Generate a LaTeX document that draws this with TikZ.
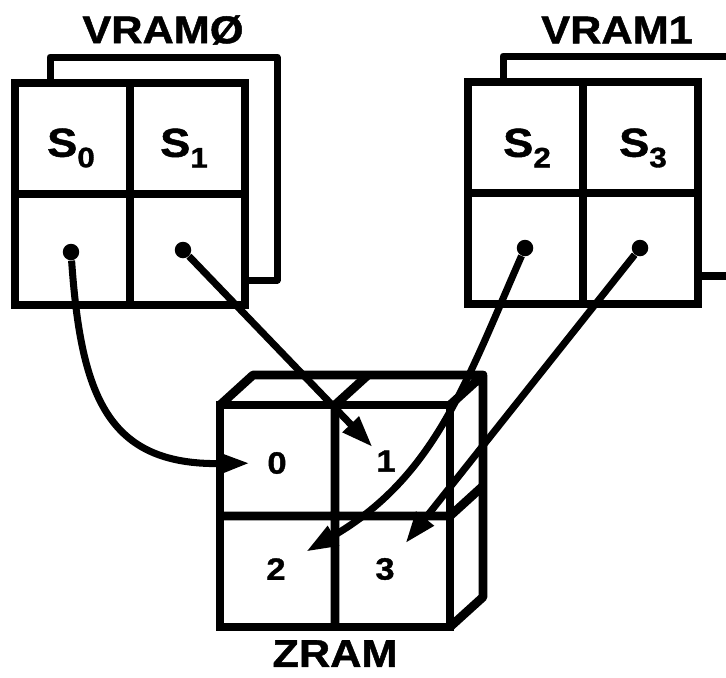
\documentclass[tikz,border=0pt]{standalone}
\usepackage{fontspec}
\setmainfont{Liberation Sans}[FakeStretch=1.12,BoldFeatures={FakeBold=1.2}]
\usepackage{tikz}
\usetikzlibrary{arrows.meta,positioning,calc}
\newcommand{\sidx}[1]{\raisebox{-6pt}{\fontsize{16}{16}\selectfont #1}}

\begin{document}
\begin{tikzpicture}[x=0.02cm,y=-0.02cm,>={Triangle[length=18pt,width=12pt]},
 ram/.style={draw,line width=5pt,minimum width=4.6cm,minimum height=4.44cm,inner sep=0pt,outer sep=0pt},
 fr/.style={line width=5pt,line join=round},
 bk/.style={line width=4pt,line join=round},
 ttl/.style={font=\bfseries\fontsize{22}{24}\selectfont},
 sl/.style={font=\bfseries\fontsize{23}{24}\selectfont},
 zl/.style={font=\bfseries\fontsize{17.5}{18}\selectfont,inner sep=2pt},
 dot/.style={circle,fill,inner sep=0pt,minimum size=0.33cm},
 ar/.style={->,line width=4pt}]
 \useasboundingbox (0,0) rectangle (726,677);
 % the two VRAM banks
 \node[ram] (v0) at (130,194) {};
 \node[ram] (v1) at (583,193) {};
 \draw[bk] ($(v0.north west)+(35,0)$) -- ++(0,-26) -- ++(227,0) -- ++(0,223) -- ++(-32,0);
 \draw[bk] ($(v1.north west)+(35,0)$) -- ++(0,-26) -- ++(240,0);
 \draw[bk] ($(v1.south east)+(0,-28)$) -- ++(40,0);
 \foreach \v in {v0,v1}
  \draw[fr] (\v.north) -- (\v.south) (\v.west) -- (\v.east);
 \node[ttl] (t0) at (163,30) {VRAMØ};
 \node[ttl] (t1) at (617,30) {VRAM1};
 \node[sl] (s0) at (71,148) {S\sidx{0}};
 \node[sl] (s1) at (184,148) {S\sidx{1}};
 \node[sl] (s2) at (527,148) {S\sidx{2}};
 \node[sl] (s3) at (643,148) {S\sidx{3}};
 \node[dot] (d0) at (71,252) {};
 \node[dot] (d1) at (183,250) {};
 \node[dot] (d2) at (525,248) {};
 \node[dot] (d3) at (640,248) {};
 % ZRAM cube
 \node[ram] (zr) at (335,516) {};
 \draw[fr] (zr.north west) -- ++(33,-30) -- ++(230,0) coordinate (zb) -- (zr.north east)
  (zb) -- ++(0,222) -- (zr.south east);
 \draw[fr] (zr.north) -- ++(33,-30) (zr.east) -- ++(33,-30)
  (zr.north) -- (zr.south) (zr.west) -- (zr.east);
 \node[ttl,below=4pt of zr] (tz) {ZRAM};
 \node[zl] (z0) at (277,463) {0};
 \node[zl] (z1) at (386,461) {1};
 \node[zl] (z2) at (276,569) {2};
 \node[zl] (z3) at (385,569) {3};
 % pointers
 \draw[ar,shorten >=8pt] (d0) .. controls (81,395) and (107,465) .. (z0.west);
 \draw[ar] (d1) -- (z1);
 \draw[ar,shorten >=11pt] (d2) .. controls (466,382) and (435,477) .. (z2.30);
 \draw[ar,shorten >=8pt] (d3) -- (z3);
\end{tikzpicture}
\end{document}
